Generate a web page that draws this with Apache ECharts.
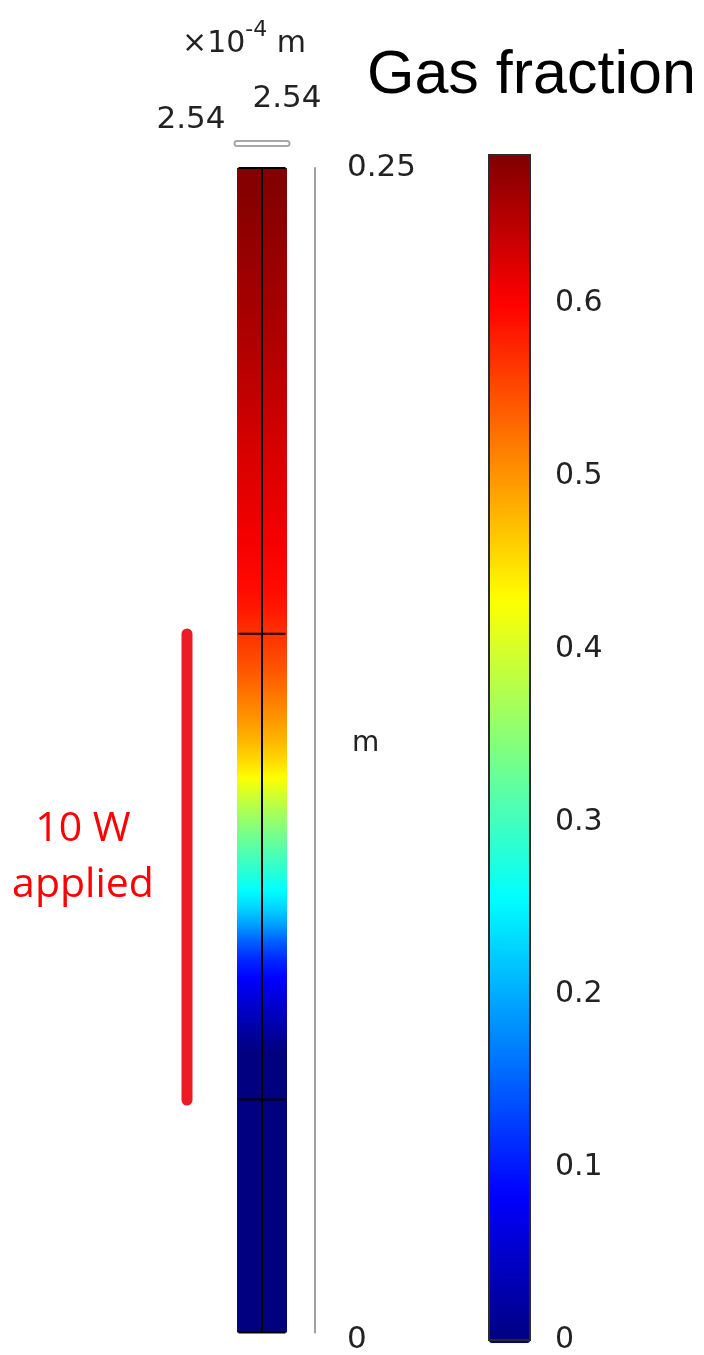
<!DOCTYPE html>
<html>
<head>
<meta charset="utf-8">
<script src="https://cdn.jsdelivr.net/npm/echarts@6/dist/echarts.min.js"></script>
<style>
  html, body { margin: 0; padding: 0; background: #ffffff; }
  #chart { width: 704px; height: 1355px; }
</style>
</head>
<body>
<div id="chart"></div>
<script>
// Gas fraction along the channel height (m)
const heights = [
  0.000, 0.050, 0.060, 0.064, 0.068, 0.072, 0.076, 0.080, 0.084, 0.088,
  0.092, 0.095, 0.099, 0.103, 0.107, 0.111, 0.115, 0.119, 0.123, 0.127,
  0.131, 0.135, 0.139, 0.143, 0.147, 0.150, 0.155, 0.160, 0.170, 0.180,
  0.190, 0.200, 0.210, 0.220, 0.230, 0.240, 0.250
];
const gasFraction = [
  0.000, 0.000, 0.000, 0.018, 0.040, 0.062, 0.086, 0.112, 0.150, 0.198,
  0.236, 0.258, 0.285, 0.310, 0.336, 0.365, 0.395, 0.428, 0.455, 0.478,
  0.497, 0.513, 0.530, 0.545, 0.558, 0.567, 0.583, 0.594, 0.607, 0.618,
  0.628, 0.640, 0.651, 0.661, 0.670, 0.678, 0.686
];

// Domain boundaries of the channel (m) and its half width (x10^-4 m)
const meshBoundaries = [0, 0.05, 0.15, 0.25];
const halfWidth = 2.54;

// Tick labels
const xTickValues = [-2.54, 2.54];
const yTickValues = [0, 0.25];
const colorbarTicks = [0, 0.1, 0.2, 0.3, 0.4, 0.5, 0.6];

// Heated section
const heaterStart = 0.05;
const heaterEnd = 0.15;
const heaterPower = 10;

// Jet colour map, evenly spaced stops
const jetColors = ['#000080', '#0000ff', '#0080ff', '#00ffff', '#80ff80',
                   '#ffff00', '#ff8000', '#ff0000', '#800000'];
const colorMax = Math.max(...gasFraction);
const colorOf = v => echarts.color.lerp(Math.min(Math.max(v / colorMax, 0), 1), jetColors);

const labelFont = 'DejaVu Sans';
const labelColor = '#222222';

const chart = echarts.init(document.getElementById('chart'), null, { renderer: 'canvas' });

const xLabelRich = {
  l: { fontFamily: labelFont, fontSize: 31, lineHeight: 32, color: labelColor, padding: [0, 92, 0, 0] },
  r: { fontFamily: labelFont, fontSize: 31, lineHeight: 32, color: labelColor, padding: [0, 0, 42, 0] }
};
const xLabelFormatter = v => v < 0 ? '{l|' + Math.abs(v).toFixed(2) + '}' : '{r|' + v.toFixed(2) + '}';

const option = {
  backgroundColor: '#ffffff',
  animation: false,
  title: {
    text: 'Gas fraction',
    left: 367,
    top: 46,
    padding: 0,
    textStyle: { fontFamily: 'Liberation Sans', fontSize: 61, fontWeight: 'normal', color: '#000000' }
  },
  grid: [
    { left: 237, top: 168, width: 50, height: 1165 },
    { left: 489, top: 155, width: 41, height: 1188, show: true, z: 10,
      backgroundColor: 'rgba(0,0,0,0)', borderColor: '#2b2b2b', borderWidth: 2 },
    { left: 177, top: 168, width: 20, height: 1165 }
  ],
  xAxis: [
    {
      // outer outline of the width axis, left tick label and unit
      gridIndex: 0, type: 'value', min: -halfWidth, max: halfWidth,
      position: 'top', offset: 25,
      axisLine: { show: true, onZero: false, lineStyle: { color: '#a8a8a8', width: 7 } },
      axisTick: { show: false },
      splitLine: { show: false },
      axisLabel: {
        customValues: [xTickValues[0]],
        showMinLabel: true,
        margin: 7,
        formatter: xLabelFormatter,
        rich: xLabelRich
      },
      name: '×10{sup|-4} m',
      nameLocation: 'middle',
      nameGap: 74,
      nameMoveOverlap: false,
      nameTextStyle: {
        fontFamily: labelFont, fontSize: 30, color: labelColor, padding: [0, 36, 0, 0],
        rich: { sup: { fontFamily: labelFont, fontSize: 22, color: labelColor, padding: [0, 0, 28, 0] } }
      }
    },
    {
      // inner part of the width axis and right tick label
      gridIndex: 0, type: 'value', min: -halfWidth, max: halfWidth,
      position: 'top', offset: 25,
      axisLine: { show: true, onZero: false, lineStyle: { color: '#ffffff', width: 3 } },
      axisTick: { show: false },
      splitLine: { show: false },
      axisLabel: {
        customValues: [xTickValues[1]],
        showMaxLabel: true,
        margin: 7,
        formatter: xLabelFormatter,
        rich: xLabelRich
      }
    },
    { gridIndex: 1, type: 'value', min: 0, max: 1, show: false },
    { gridIndex: 2, type: 'value', min: -1, max: 1, show: false }
  ],
  yAxis: [
    {
      gridIndex: 0, type: 'value', min: 0, max: 0.25,
      position: 'right', offset: 28,
      axisLine: { show: true, onZero: false, lineStyle: { color: '#a0a0a0', width: 2 } },
      axisTick: { show: false },
      splitLine: { show: false },
      axisLabel: {
        customValues: yTickValues,
        showMinLabel: true,
        showMaxLabel: true,
        margin: 32,
        formatter: v => v === 0 ? '{b|0}' : '{t|' + v + '}',
        rich: {
          t: { fontFamily: labelFont, fontSize: 31, color: labelColor },
          b: { fontFamily: labelFont, fontSize: 31, color: labelColor, padding: [14, 0, 0, 0] }
        }
      },
      name: 'm',
      nameLocation: 'middle',
      nameRotate: 0,
      nameGap: 37,
      nameMoveOverlap: false,
      nameTextStyle: { fontFamily: labelFont, fontSize: 28, lineHeight: 14, color: labelColor,
                       align: 'left', verticalAlign: 'bottom' }
    },
    {
      gridIndex: 1, type: 'value', min: 0, max: colorMax, position: 'left',
      axisLine: { show: false, onZero: false },
      axisTick: { show: true, inside: true, length: 7, customValues: colorbarTicks,
                  lineStyle: { color: '#222222', width: 2 } },
      axisLabel: { show: false },
      splitLine: { show: false }
    },
    {
      gridIndex: 1, type: 'value', min: 0, max: colorMax, position: 'right',
      axisLine: { show: false, onZero: false },
      axisTick: { show: true, inside: true, length: 7, customValues: colorbarTicks,
                  lineStyle: { color: '#222222', width: 2 } },
      axisLabel: { customValues: colorbarTicks, showMinLabel: true, margin: 25, fontFamily: labelFont,
                   fontSize: 30, color: labelColor, formatter: v => String(v) },
      splitLine: { show: false }
    },
    { gridIndex: 2, type: 'value', min: 0, max: 0.25, show: false }
  ],
  visualMap: {
    type: 'continuous',
    seriesIndex: 0,
    dimension: 1,
    min: 0,
    max: colorMax,
    inRange: { color: jetColors },
    calculable: false,
    orient: 'vertical',
    left: 489,
    top: 155,
    itemWidth: 41,
    itemHeight: 1188,
    padding: 0,
    text: null,
    hoverLink: false
  },
  series: [
    {
      // gas fraction field along the channel: one band shaded through every sample
      type: 'custom',
      xAxisIndex: 0, yAxisIndex: 0,
      silent: true,
      data: heights.map((h, i) => [h, gasFraction[i]]),
      renderItem: (params, api) => {
        if (params.dataIndexInside !== 0) return null;
        const n = heights.length;
        const pBottom = api.coord([-halfWidth, heights[0]]);
        const pTop = api.coord([halfWidth, heights[n - 1]]);
        const span = pBottom[1] - pTop[1];
        const stops = [];
        for (let j = n - 1; j >= 0; j--) {
          const y = api.coord([0, heights[j]])[1];
          stops.push({ offset: Math.min(Math.max((y - pTop[1]) / span, 0), 1), color: colorOf(gasFraction[j]) });
        }
        return {
          type: 'rect',
          shape: { x: pBottom[0], y: pTop[1], width: pTop[0] - pBottom[0], height: span },
          style: { fill: new echarts.graphic.LinearGradient(0, 0, 0, 1, stops) }
        };
      }
    },
    {
      // centre line of the channel
      type: 'line',
      xAxisIndex: 0, yAxisIndex: 0,
      silent: true,
      symbol: 'none',
      data: [[0, meshBoundaries[0]], [0, meshBoundaries[meshBoundaries.length - 1]]],
      lineStyle: { color: '#000000', width: 2 },
      z: 3
    },
    {
      // domain boundaries across the channel
      type: 'custom',
      xAxisIndex: 0, yAxisIndex: 0,
      silent: true,
      data: meshBoundaries.map(h => [0, h]),
      renderItem: (params, api) => {
        const h = api.value(1);
        const a = api.coord([-halfWidth + 0.15, h]);
        const b = api.coord([halfWidth - 0.15, h]);
        return {
          type: 'line',
          shape: { x1: a[0], y1: a[1], x2: b[0], y2: b[1] },
          style: { stroke: '#000000', lineWidth: 2 }
        };
      },
      z: 3
    },
    {
      // heated section
      type: 'line',
      xAxisIndex: 3, yAxisIndex: 3,
      silent: true,
      symbol: 'none',
      data: [[0, heaterStart], [0, heaterEnd]],
      lineStyle: { color: '#ED1C24', width: 11, cap: 'round' }
    }
  ],
  graphic: [
    {
      type: 'text',
      x: 83,
      y: 801,
      style: {
        text: heaterPower + ' W\napplied',
        textAlign: 'center',
        fontFamily: 'Open Sans',
        fontSize: 41,
        lineHeight: 56,
        fill: '#ff0000'
      }
    }
  ]
};

chart.setOption(option);
</script>
</body>
</html>
